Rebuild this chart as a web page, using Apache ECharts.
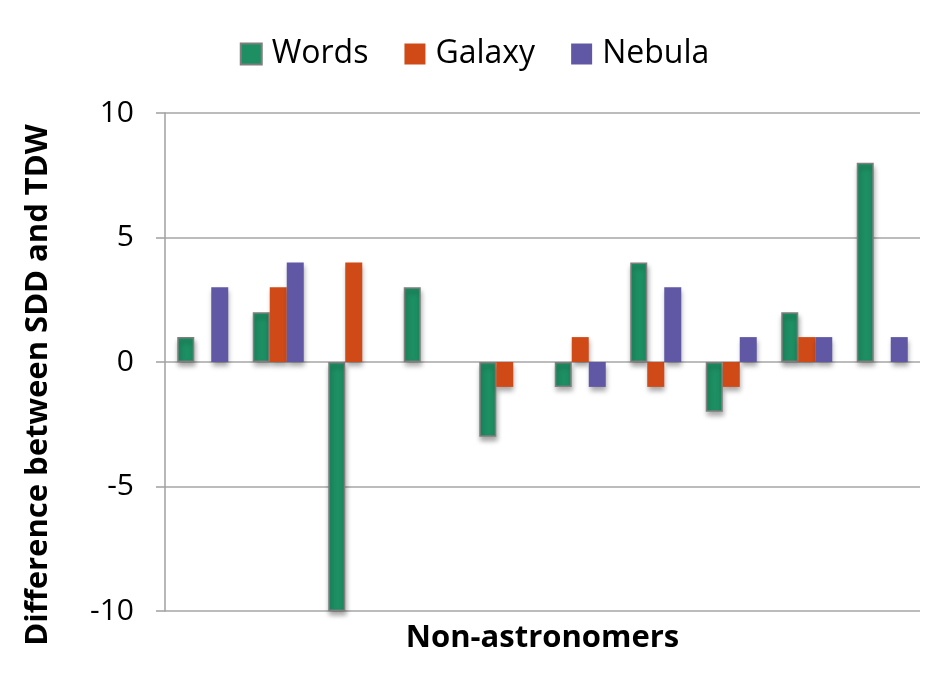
<!DOCTYPE html>
<html>
<head>
<meta charset="utf-8">
<script src="https://cdn.jsdelivr.net/npm/echarts@6/dist/echarts.min.js"></script>
<style>
  html, body { margin: 0; padding: 0; background: #fff; }
  #chart { width: 949px; height: 691px; }
</style>
</head>
<body>
<div id="chart"></div>
<script>
// groups of non-astronomers (no labels shown on the axis)
const groups = ['1', '2', '3', '4', '5', '6', '7', '8', '9', '10'];
const words  = [1, 2, -10, 3, -3, -1, 4, -2, 2, 8];
const galaxy = [0, 3, 4, 0, -1, 1, -1, -1, 1, 0];
const nebula = [3, 4, 0, 0, 0, -1, 3, 1, 1, 1];

const font = '"Open Sans", "Noto Sans", sans-serif';
const shadow = {
  shadowColor: 'rgba(0,0,0,0.35)',
  shadowBlur: 5,
  shadowOffsetX: 1,
  shadowOffsetY: 4
};

const chart = echarts.init(document.getElementById('chart'));
chart.setOption({
  animation: false,
  backgroundColor: '#fff',
  textStyle: { fontFamily: font },
  grid: { left: 165, right: 29, top: 113, bottom: 80 },
  legend: {
    top: 33,
    left: 'center',
    itemWidth: 21,
    itemHeight: 21,
    itemGap: 36,
    icon: 'rect',
    textStyle: { fontSize: 32, color: '#000', fontFamily: font, padding: [0, 0, 0, 5] },
    data: ['Words', 'Galaxy', 'Nebula']
  },
  graphic: [{
    type: 'text',
    x: 38,
    y: 385,
    rotation: Math.PI / 2,
    style: {
      text: 'Difference between SDD and TDW',
      font: 'bold 31px ' + font,
      fill: '#000',
      align: 'center',
      verticalAlign: 'middle'
    }
  }],
  xAxis: {
    type: 'category',
    data: groups,
    axisLine: { show: false },
    axisTick: { show: false },
    axisLabel: { show: false },
    name: 'Non-astronomers',
    nameLocation: 'middle',
    nameGap: 12,
    nameTextStyle: { fontSize: 31, fontWeight: 'bold', color: '#000', fontFamily: font, verticalAlign: 'top' }
  },
  yAxis: {
    type: 'value',
    min: -10,
    max: 10,
    interval: 5,
    axisLine: { show: true, lineStyle: { color: '#a0a0a0', width: 1.5 } },
    axisTick: { show: true, length: 9, lineStyle: { color: '#a0a0a0', width: 1.5 } },
    axisLabel: { fontSize: 30, color: '#000', margin: 31, fontFamily: font },
    splitLine: { lineStyle: { color: '#a6a6a6', width: 1.5 } }
  },
  series: [
    {
      name: 'Words', type: 'bar', data: words,
      barWidth: 17, barGap: '0%',
      itemStyle: Object.assign({ color: '#1d8f63', borderColor: '#7f7f7f', borderWidth: 1.5 }, shadow)
    },
    {
      name: 'Galaxy', type: 'bar', data: galaxy,
      barWidth: 17, barGap: '0%',
      itemStyle: Object.assign({ color: '#d04a17' }, shadow)
    },
    {
      name: 'Nebula', type: 'bar', data: nebula,
      barWidth: 17, barGap: '0%',
      itemStyle: Object.assign({ color: '#6158a5' }, shadow)
    }
  ]
});
</script>
</body>
</html>
